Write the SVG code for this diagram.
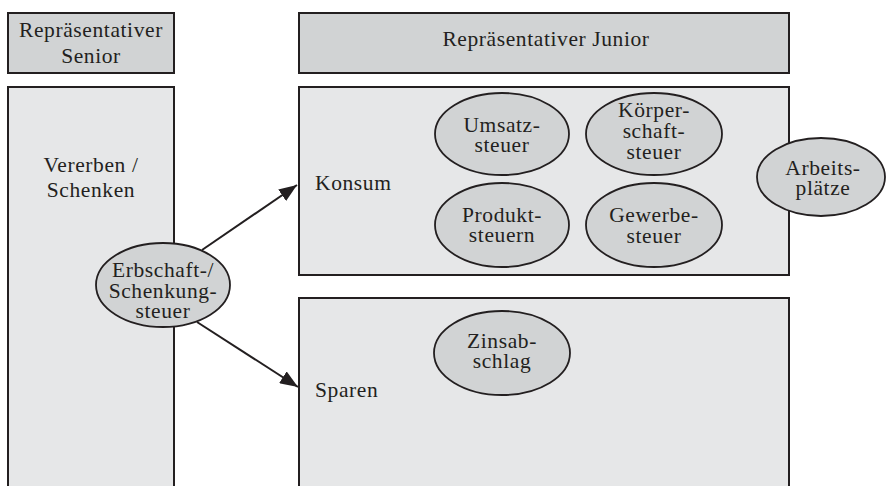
<svg xmlns="http://www.w3.org/2000/svg" width="886" height="486" viewBox="0 0 886 486">
  <defs>
    <style>
      .hdr { fill: #d1d3d4; stroke: #231f20; stroke-width: 2; }
      .body { fill: #e6e7e8; stroke: #231f20; stroke-width: 2; }
      .ell { fill: #d1d3d4; stroke: #231f20; stroke-width: 1.8; }
      .conn { stroke: #231f20; stroke-width: 2; fill: none; }
      text { font-family: "Liberation Serif", "Times New Roman", serif; font-size: 21.5px; letter-spacing: 0.6px; fill: #231f20; }
      .c { text-anchor: middle; }
    </style>
    <marker id="arrow" markerUnits="userSpaceOnUse" markerWidth="20" markerHeight="14" refX="18" refY="7" orient="auto">
      <path d="M0,0 L18,7 L0,14 Z" fill="#231f20"/>
    </marker>
  </defs>
  <rect width="886" height="486" fill="#ffffff"/>

  <g id="senior-header">
    <rect class="hdr" x="8" y="13" width="166" height="60"/>
    <text class="c" x="91" y="37">Repräsentativer</text>
    <text class="c" x="91" y="63">Senior</text>
  </g>
  <g id="junior-header">
    <rect class="hdr" x="299" y="13" width="490" height="60"/>
    <text class="c" x="546" y="46">Repräsentativer Junior</text>
  </g>
  <g id="vererben">
    <rect class="body" x="8" y="87" width="166" height="430"/>
    <text class="c" x="91" y="172">Vererben /</text>
    <text class="c" x="91" y="197">Schenken</text>
  </g>
  <g id="konsum">
    <rect class="body" x="299" y="87" width="490" height="188"/>
    <text x="315" y="190">Konsum</text>
  </g>
  <g id="sparen">
    <rect class="body" x="299" y="298" width="490" height="220"/>
    <text x="315" y="397">Sparen</text>
  </g>

  <g id="connectors">
    <line class="conn" x1="202" y1="250" x2="297" y2="185" marker-end="url(#arrow)"/>
    <line class="conn" x1="197" y1="322" x2="298" y2="387" marker-end="url(#arrow)"/>
  </g>

  <g id="erbschaftsteuer">
    <ellipse class="ell" cx="163" cy="285" rx="67" ry="42"/>
    <text class="c" x="163" y="277">Erbschaft-/</text>
    <text class="c" x="163" y="298">Schenkung-</text>
    <text class="c" x="163" y="318">steuer</text>
  </g>
  <g id="umsatzsteuer">
    <ellipse class="ell" cx="502" cy="134" rx="67" ry="41"/>
    <text class="c" x="502" y="132">Umsatz-</text>
    <text class="c" x="502" y="152">steuer</text>
  </g>
  <g id="koerperschaftsteuer">
    <ellipse class="ell" cx="654" cy="134" rx="68" ry="41"/>
    <text class="c" x="654" y="117">Körper-</text>
    <text class="c" x="654" y="138">schaft-</text>
    <text class="c" x="654" y="159">steuer</text>
  </g>
  <g id="produktsteuern">
    <ellipse class="ell" cx="502" cy="225" rx="67" ry="42"/>
    <text class="c" x="502" y="222">Produkt-</text>
    <text class="c" x="502" y="242">steuern</text>
  </g>
  <g id="gewerbesteuer">
    <ellipse class="ell" cx="654" cy="225" rx="68" ry="42"/>
    <text class="c" x="654" y="222">Gewerbe-</text>
    <text class="c" x="654" y="243">steuer</text>
  </g>
  <g id="arbeitsplaetze">
    <ellipse class="ell" cx="821" cy="177" rx="64" ry="39"/>
    <text class="c" x="823" y="175">Arbeits-</text>
    <text class="c" x="823" y="195">plätze</text>
  </g>
  <g id="zinsabschlag">
    <ellipse class="ell" cx="502" cy="353" rx="68" ry="42"/>
    <text class="c" x="502" y="348">Zinsab-</text>
    <text class="c" x="502" y="368">schlag</text>
  </g>
</svg>
